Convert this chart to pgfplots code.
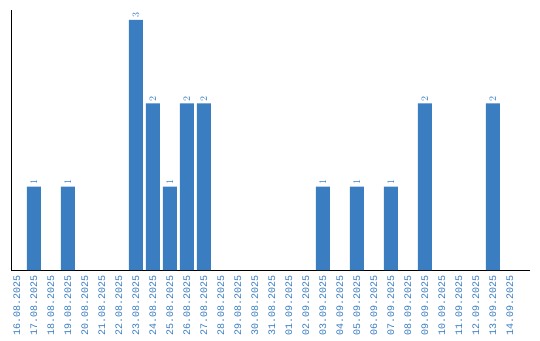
\documentclass[border=0pt]{standalone}
\usepackage{pgfplots}
\pgfplotsset{compat=1.18}
\usepackage{fontspec}
\setmainfont{Liberation Mono}
\definecolor{barblue}{HTML}{3A7DC1}
\begin{document}
\begin{tikzpicture}
\begin{axis}[
  at={(11pt,70pt)}, anchor=south west,
  scale only axis, width=519pt, height=260pt,
  xmin=-0.35, xmax=30.18, ymin=0, ymax=3.12,
  axis x line=bottom, axis y line=left,
  axis line style={black, line width=1pt, -},
  ytick=\empty,
  xtick={0,...,29},
  major tick length=0pt,
  xticklabels={16.08.2025,17.08.2025,18.08.2025,19.08.2025,20.08.2025,21.08.2025,22.08.2025,23.08.2025,24.08.2025,25.08.2025,26.08.2025,27.08.2025,28.08.2025,29.08.2025,30.08.2025,31.08.2025,01.09.2025,02.09.2025,03.09.2025,04.09.2025,05.09.2025,06.09.2025,07.09.2025,08.09.2025,09.09.2025,10.09.2025,11.09.2025,12.09.2025,13.09.2025,14.09.2025},
  xticklabel style={rotate=90, anchor=east, font=\fontsize{10}{10}\selectfont, text=barblue, inner sep=0pt, outer xsep=5pt, outer ysep=0pt},
  xtick style={draw=none},
  ybar, bar width=14pt,
  nodes near coords,
  nodes near coords style={rotate=90, anchor=west, font=\fontsize{10}{10}\selectfont, text=barblue, inner sep=0pt, outer xsep=2pt, outer ysep=0pt},
  clip=false,
]
\addplot[fill=barblue, draw=none] coordinates {
(1,1) (3,1) (7,3) (8,2) (9,1) (10,2) (11,2) (18,1) (20,1) (22,1) (24,2) (28,2)
};
\end{axis}
\pgfresetboundingbox
\path[use as bounding box] (0,0) rectangle (540pt,340pt);
\end{tikzpicture}
\end{document}
